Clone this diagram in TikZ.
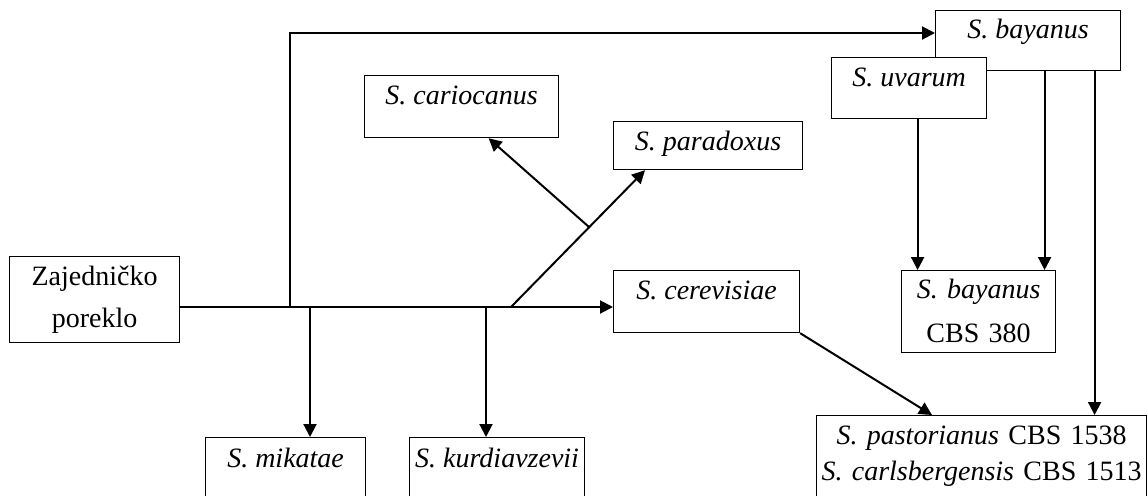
\documentclass[tikz,border=0pt]{standalone}
\usepackage{fontspec}
\setmainfont{Liberation Serif}
\usetikzlibrary{arrows.meta}

\begin{document}
\begin{tikzpicture}[x = 0.5pt, y = -0.5pt,
        box/.style = {draw, fill=white, line width=0.6pt, inner sep=0pt, anchor=north west,
            font=\fontsize{14pt}{21pt}\selectfont},
        arr/.style = {-{Triangle[length=6.5pt,width=6.5pt]}, line width=1pt}]
    \useasboundingbox (0,0) rectangle (1148,495);

    % boxes
    \node[box, text width=85pt, align=center, text height=14.5pt, text depth=28.5pt] (zaj) at (9,256) {Zajedničko\\poreklo};
    \node[box, minimum width=97pt, text height=14.5pt, text depth=16.5pt] (cario) at (364,75) {\textit{S. cariocanus}};
    \node[box, minimum width=94.5pt, text height=14.5pt, text depth=9.5pt] (para) at (613,121) {\textit{S. paradoxus}};
    \node[box, minimum width=93pt, text height=14.5pt, text depth=16.5pt] (cere) at (613,270) {\textit{S. cerevisiae}};
    \node[box, minimum width=80pt, text height=15pt, text depth=35pt] (mik) at (205,437) {\textit{S. mikatae}};
    \node[box, minimum width=87.5pt, text height=15pt, text depth=35pt] (kur) at (409,437) {\textit{S. kurdiavzevii}};
    \node[box, minimum width=92.5pt, text height=14pt, text depth=16pt] (bay) at (935,10) {\textit{S. bayanus}};
    \node[box, minimum width=77.5pt, text height=14.5pt, text depth=16pt] (uva) at (831,57) {\textit{S. uvarum}};
    \node[box, text width=77pt, align=center, text height=14pt, text depth=27pt,
        font=\fontsize{14pt}{22pt}\selectfont] (bcbs) at (901,270) {\textit{S. bayanus}\\CBS 380};
    \node[box, text width=165pt, align=center, text height=14.5pt, text depth=30pt,
        font=\fontsize{14pt}{18pt}\selectfont] (past) at (816,415) {\textit{S. pastorianus} CBS 1538\\\textit{S. carlsbergensis} CBS 1513};

    % branch points
    \coordinate (jtop) at (290,307);
    \coordinate (ttop) at (290,33);
    \coordinate (jmik) at (310,307);
    \coordinate (jkur) at (486,307);
    \coordinate (jpar) at (511,307);
    \coordinate (jcar) at (589,227);

    % connectors
    \draw[arr] (zaj.east |- jtop) -- (cere.west |- jtop);
    \draw[arr] (jtop) -- (ttop) -- (bay.west |- ttop);
    \draw[arr] (jmik) -- (jmik |- mik.north);
    \draw[arr] (jkur) -- (jkur |- kur.north);
    \draw[arr] (jpar) -- ([xshift=16pt]para.south west);
    \draw[arr] (jcar) -- ([xshift=13.5pt]cario.south);
    \draw[arr] ([xshift=4.25pt]uva.south) -- ([xshift=4.25pt]uva.south |- bcbs.north);
    \draw[arr] ([xshift=8.25pt]bay.south) -- ([xshift=8.25pt]bay.south |- bcbs.north);
    \draw[arr] ([xshift=33.25pt]bay.south) -- ([xshift=33.25pt]bay.south |- past.north);
    \draw[arr] (cere.south east) -- ([xshift=58pt]past.north west);
\end{tikzpicture}
\end{document}
